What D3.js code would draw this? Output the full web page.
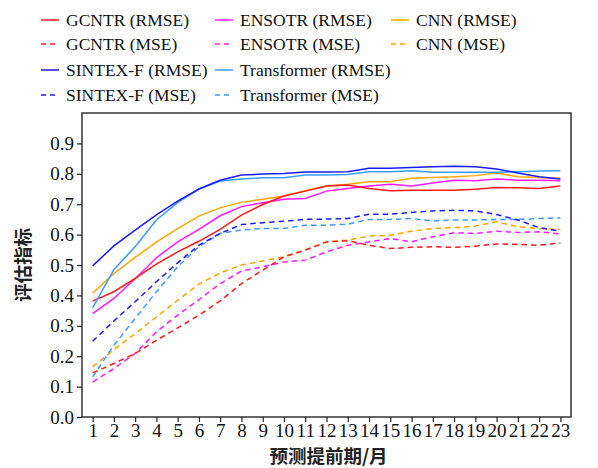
<!DOCTYPE html>
<html>
<head>
<meta charset="utf-8">
<script src="https://cdn.jsdelivr.net/npm/d3@7"></script>
<style>
  body { margin: 0; background: #fff; }
</style>
</head>
<body>
<svg id="chart" width="598" height="468"></svg>
<script>
// lead months 1..23
const months = d3.range(1, 24);

const gcntrRmse = [0.381, 0.412, 0.456, 0.503, 0.543, 0.578, 0.617, 0.664, 0.699, 0.727, 0.743, 0.760,
  0.763, 0.752, 0.744, 0.746, 0.746, 0.746, 0.749, 0.755, 0.754, 0.752, 0.760];
const gcntrMse = [0.145, 0.176, 0.209, 0.252, 0.293, 0.335, 0.382, 0.439, 0.483, 0.527, 0.549, 0.576,
  0.580, 0.565, 0.554, 0.558, 0.560, 0.558, 0.562, 0.569, 0.568, 0.565, 0.573];
const ensotrRmse = [0.340, 0.390, 0.455, 0.524, 0.576, 0.617, 0.662, 0.692, 0.705, 0.716, 0.719, 0.743,
  0.752, 0.760, 0.766, 0.760, 0.770, 0.779, 0.777, 0.783, 0.779, 0.779, 0.777];
const ensotrMse = [0.115, 0.159, 0.209, 0.280, 0.335, 0.386, 0.439, 0.480, 0.494, 0.510, 0.516, 0.543,
  0.565, 0.576, 0.587, 0.576, 0.593, 0.606, 0.604, 0.611, 0.607, 0.609, 0.602];
const cnnRmse = [0.407, 0.472, 0.525, 0.575, 0.620, 0.661, 0.688, 0.706, 0.716, 0.727, 0.744, 0.760,
  0.766, 0.774, 0.774, 0.785, 0.788, 0.790, 0.794, 0.803, 0.790, 0.788, 0.785];
const cnnMse = [0.165, 0.222, 0.274, 0.329, 0.384, 0.437, 0.474, 0.500, 0.513, 0.527, 0.549, 0.576,
  0.582, 0.595, 0.598, 0.611, 0.620, 0.623, 0.628, 0.642, 0.626, 0.620, 0.617];
const sintexRmse = [0.497, 0.563, 0.615, 0.665, 0.710, 0.750, 0.779, 0.796, 0.799, 0.801, 0.806, 0.806,
  0.807, 0.818, 0.818, 0.821, 0.823, 0.825, 0.823, 0.816, 0.803, 0.790, 0.783];
const sintexMse = [0.249, 0.316, 0.379, 0.445, 0.507, 0.565, 0.604, 0.633, 0.639, 0.644, 0.650, 0.651,
  0.653, 0.667, 0.667, 0.673, 0.678, 0.680, 0.678, 0.666, 0.648, 0.623, 0.611];
const transRmse = [0.359, 0.485, 0.560, 0.648, 0.705, 0.750, 0.776, 0.783, 0.787, 0.787, 0.796, 0.796,
  0.798, 0.807, 0.807, 0.810, 0.805, 0.805, 0.805, 0.805, 0.807, 0.809, 0.810];
const transMse = [0.132, 0.236, 0.324, 0.412, 0.494, 0.560, 0.604, 0.615, 0.620, 0.620, 0.631, 0.631,
  0.634, 0.650, 0.650, 0.653, 0.645, 0.648, 0.648, 0.650, 0.650, 0.653, 0.655];

const yTicks = [0.0, 0.1, 0.2, 0.3, 0.4, 0.5, 0.6, 0.7, 0.8, 0.9];

const series = [
  {name: "GCNTR (RMSE)", values: gcntrRmse, color: "#ff1a1a", dash: false},
  {name: "GCNTR (MSE)", values: gcntrMse, color: "#ff1a1a", dash: true},
  {name: "SINTEX-F (RMSE)", values: sintexRmse, color: "#1a1aff", dash: false},
  {name: "SINTEX-F (MSE)", values: sintexMse, color: "#1a1aff", dash: true},
  {name: "ENSOTR (RMSE)", values: ensotrRmse, color: "#ff19ff", dash: false},
  {name: "ENSOTR (MSE)", values: ensotrMse, color: "#ff19ff", dash: true},
  {name: "Transformer (RMSE)", values: transRmse, color: "#3d9bff", dash: false},
  {name: "Transformer (MSE)", values: transMse, color: "#3d9bff", dash: true},
  {name: "CNN (RMSE)", values: cnnRmse, color: "#ffa500", dash: false},
  {name: "CNN (MSE)", values: cnnMse, color: "#ffa500", dash: true}
];

const serif = "Liberation Serif, Times New Roman, serif";
const cjk = "Noto Sans CJK SC, sans-serif";

const svg = d3.select("#chart");
const plotL = 82, plotR = 571, plotT = 113, plotB = 417;

const x = d3.scaleLinear().domain([0.5, 23.5]).range([plotL, plotR]);
const y = d3.scaleLinear().domain([0, 1]).range([plotB, plotT]);

// lines
const line = d3.line().x((d, i) => x(months[i])).y(d => y(d));
// draw order: blue lines end up on top
const drawOrder = [8, 9, 4, 5, 0, 1, 6, 7, 2, 3];
svg.append("g").selectAll("path")
  .data(drawOrder.map(i => series[i]))
  .join("path")
    .attr("d", d => line(d.values))
    .attr("fill", "none")
    .attr("stroke", d => d.color)
    .attr("stroke-width", 1.5)
    .attr("stroke-dasharray", d => d.dash ? "5.5,4" : null);

// axes
const xAxis = svg.append("g")
  .attr("transform", `translate(0,${plotB})`)
  .call(d3.axisBottom(x).tickValues(months).tickFormat(d3.format("d")).tickSize(5).tickPadding(2));
const yAxis = svg.append("g")
  .attr("transform", `translate(${plotL},0)`)
  .call(d3.axisLeft(y).tickValues(yTicks).tickFormat(d3.format(".1f")).tickSize(5).tickPadding(3));
[xAxis, yAxis].forEach(a => {
  a.attr("font-family", serif).attr("font-size", 19);
  a.select(".domain").remove();
  a.selectAll("line").attr("stroke", "#222").attr("stroke-width", 1.2);
  a.selectAll("text").attr("fill", "#111");
});

// frame
svg.append("rect")
  .attr("x", plotL).attr("y", plotT)
  .attr("width", plotR - plotL).attr("height", plotB - plotT)
  .attr("fill", "none").attr("stroke", "#333").attr("stroke-width", 1.5);

// axis titles
svg.append("text")
  .attr("x", (plotL + plotR) / 2 + 2).attr("y", 463)
  .attr("text-anchor", "middle")
  .attr("font-family", cjk).attr("font-size", 18.5).attr("font-weight", 700)
  .attr("fill", "#222")
  .text("预测提前期/月");

svg.append("text")
  .attr("transform", `translate(30,${(plotT + plotB) / 2}) rotate(-90)`)
  .attr("text-anchor", "middle")
  .attr("font-family", cjk).attr("font-size", 18.5).attr("font-weight", 700)
  .attr("fill", "#222")
  .text("评估指标");

// legend: 3 columns
const colX = [41, 215, 391];
const rowY = [20, 44, 70, 95];
const legendPos = [
  [0, 0], [0, 1], [0, 2], [0, 3],
  [1, 0], [1, 1], [1, 2], [1, 3],
  [2, 0], [2, 1]
];
const lg = svg.append("g")
  .attr("font-family", serif).attr("font-size", 17.5)
  .selectAll("g")
  .data(series)
  .join("g")
    .attr("transform", (d, i) => `translate(${colX[legendPos[i][0]]},${rowY[legendPos[i][1]]})`);
lg.append("line")
  .attr("x1", 0).attr("x2", 18).attr("y1", 0).attr("y2", 0)
  .attr("stroke", d => d.color).attr("stroke-width", 1.5)
  .attr("stroke-dasharray", d => d.dash ? "5,4" : null);
lg.append("text")
  .attr("x", 25).attr("y", 0).attr("dy", "0.35em")
  .attr("fill", "#111")
  .text(d => d.name);
</script>
</body>
</html>
